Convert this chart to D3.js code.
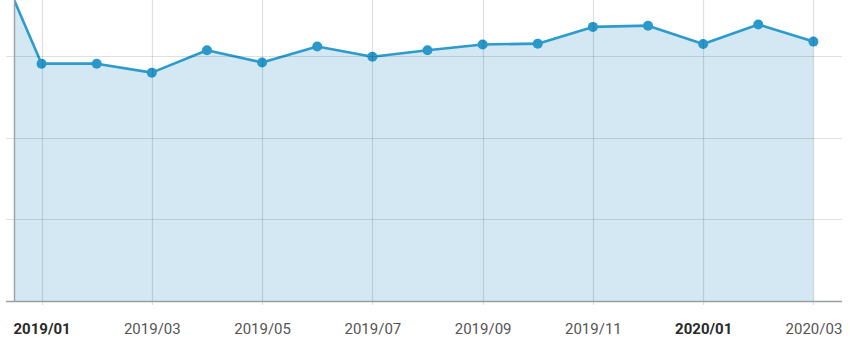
<!DOCTYPE html>
<html><head><meta charset="utf-8">
<script src="https://cdn.jsdelivr.net/npm/d3@7"></script>
<style>html,body{margin:0;padding:0;background:#fff;overflow:hidden}</style>
</head><body>
<svg id="c" width="850" height="343"></svg>
<script>
const months = ["2018/12","2019/01","2019/02","2019/03","2019/04","2019/05","2019/06","2019/07","2019/08","2019/09","2019/10","2019/11","2019/12","2020/01","2020/02","2020/03"];
const values = [89.4,58.1,58.1,55.9,61.4,58.4,62.3,59.8,61.4,62.8,63.0,67.1,67.4,62.9,67.7,63.5];
const tickLabels = ["2019/01","2019/03","2019/05","2019/07","2019/09","2019/11","2020/01","2020/03"];
const boldLabels = ["2019/01","2020/01"];
const yTicks = [20,40,60];

const svg = d3.select("#c");
const left = 14, right = 842, bottom = 301;
const x = d3.scaleLinear().domain([0.5, months.length - 0.5]).range([left, right - 1]);
const y = d3.scaleLinear().domain([0, 80]).range([bottom, bottom - 4 * 81.7]);

svg.append("defs").append("clipPath").attr("id","clip")
  .append("rect").attr("x", left).attr("y", -200).attr("width", right - left).attr("height", bottom + 200);

const data = months.map((m,i)=>({m, i, v: values[i]}));

const g = svg.append("g");
const plot = g.append("g").attr("clip-path","url(#clip)");

plot.append("path").datum(data)
  .attr("d", d3.area().x(d=>x(d.i)).y0(y(0)).y1(d=>y(d.v)))
  .attr("fill", "#d3e8f2");

const grid = g.append("g").attr("stroke","rgba(0,0,0,0.12)").attr("stroke-width",1.2);
yTicks.forEach(t=>{
  grid.append("line").attr("x1", left - 8).attr("x2", right).attr("y1", Math.round(y(t))+0.5).attr("y2", Math.round(y(t))+0.5);
});
tickLabels.forEach(lbl=>{
  const i = months.indexOf(lbl);
  const xx = Math.round(x(i)) + 0.5;
  grid.append("line").attr("x1", xx).attr("x2", xx).attr("y1", 0).attr("y2", bottom + 4);
});

g.append("line").attr("x1", left+0.5).attr("x2", left+0.5).attr("y1", 0).attr("y2", bottom)
  .attr("stroke","#a0a4a6").attr("stroke-width",1.5);
g.append("line").attr("x1", left - 8).attr("x2", right).attr("y1", bottom+0.5).attr("y2", bottom+0.5)
  .attr("stroke","#9a9ea0").attr("stroke-width",1.3);

const xAxis = d3.axisBottom(x)
  .tickValues(tickLabels.map(l=>months.indexOf(l)))
  .tickFormat(i=>months[i]).tickSize(0).tickPadding(0);
const ax = g.append("g").attr("transform",`translate(0,${bottom})`).call(xAxis);
ax.select(".domain").remove();
ax.selectAll("text")
  .attr("y", 33).attr("dy", 0)
  .attr("font-family","Roboto, sans-serif").attr("font-size", 15)
  .attr("font-weight", d=>boldLabels.includes(months[d]) ? 700 : 400)
  .attr("fill", d=>boldLabels.includes(months[d]) ? "#2a2a2a" : "#555");

plot.append("path").datum(data)
  .attr("d", d3.line().x(d=>x(d.i)).y(d=>y(d.v)))
  .attr("fill","none").attr("stroke","#2d9bcc").attr("stroke-width",2.6).attr("stroke-linejoin","round");

plot.selectAll("circle").data(data).join("circle")
  .attr("cx", d=>x(d.i)).attr("cy", d=>y(d.v)).attr("r", 5).attr("fill","#2a98ca");
</script>
</body></html>
